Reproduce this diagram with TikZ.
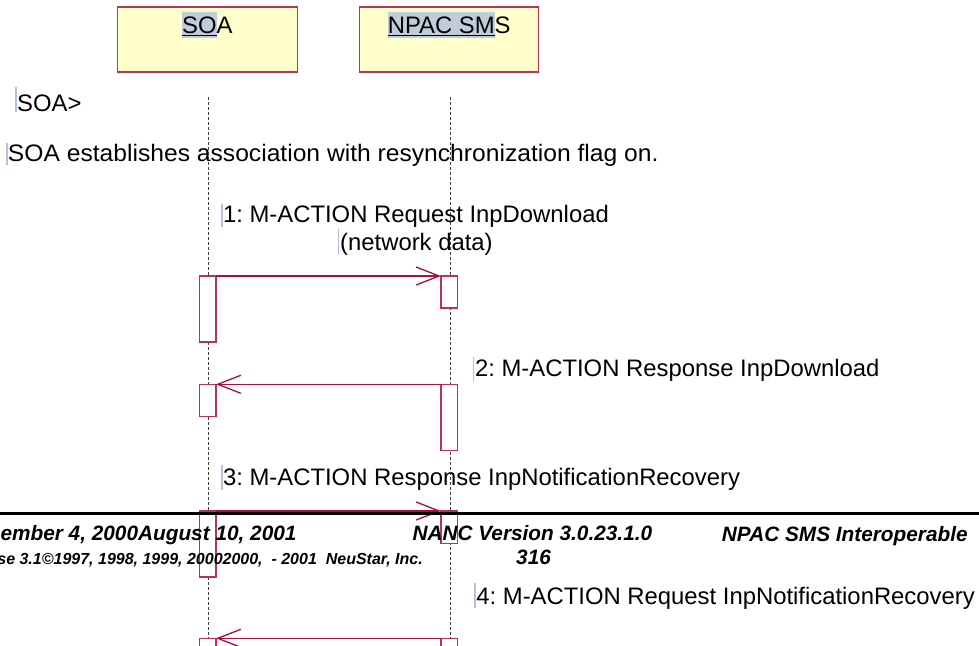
\documentclass[tikz,border=0pt]{standalone}
\usepackage{fontspec}
\setmainfont{Liberation Sans}
\usetikzlibrary{arrows.meta}
\definecolor{hdrfill}{RGB}{255,255,204}
\definecolor{hdrdraw}{RGB}{190,50,90}
\definecolor{actdraw}{RGB}{185,50,85}
\definecolor{arrowc}{RGB}{165,15,65}
\definecolor{lifec}{RGB}{60,60,60}
\definecolor{hlc}{RGB}{192,204,218}
\definecolor{cursorc}{RGB}{180,195,215}
\newcommand\mainsz{\fontsize{23.85}{28}\selectfont\frenchspacing}
\newcommand\footsz{\fontsize{20.8}{24}\selectfont\frenchspacing}
\newcommand\footsmall{\fontsize{16}{19}\selectfont\frenchspacing}
\newcommand\hlt[1]{\setbox0\hbox{#1}\rlap{\textcolor{hlc}{\rule[-4.7pt]{\wd0}{25.4pt}}}\rlap{\rule[-2.8pt]{\wd0}{1.3pt}}\box0}
\tikzset{
  lbl/.style={inner sep=0, anchor=base west, font=\mainsz},
  hdr/.style={draw=hdrdraw, fill=hdrfill, line width=1.3pt, minimum width=179.5pt, minimum height=65pt, inner sep=0, outer sep=0, anchor=north west},
  act/.style={draw=actdraw, fill=white, line width=1.2pt, minimum width=16.6pt, inner sep=0, outer sep=0, anchor=north},
  msg/.style={draw=arrowc, line width=1.3pt, -{Straight Barb[length=23pt,width=18pt]}},
  life/.style={draw=lifec, line width=0.9pt, dash pattern=on 3pt off 2pt},
  cur/.style={fill=cursorc, draw=none},
  foot/.style={inner sep=0, font=\footsz\bfseries\itshape},
  foots/.style={inner sep=0, font=\footsmall\bfseries\itshape},
}
\begin{document}
\begin{tikzpicture}[x=1pt,y=-1pt]
\clip (0,0) rectangle (979,645);
\fill[white] (0,0) rectangle (979,645);

% header boxes
\node[hdr] (soabox) at (117.7,7) {};
\node[hdr] (npacbox) at (359.2,7) {};
\node[inner sep=0, anchor=base, font=\mainsz] (soat) at (207.4,33) {\hlt{SO}A};
\node[inner sep=0, anchor=base, font=\mainsz] (npact) at (449.2,33) {\hlt{NPAC SM}S};

% cursor bars
\fill[cur] (15,87) rectangle (16.5,111.7);
\fill[cur] (6,143) rectangle (7.5,165);
\fill[cur] (221,204) rectangle (222.5,226.7);
\fill[cur] (337.6,228) rectangle (339.1,255);
\fill[cur] (472.6,356.7) rectangle (474.1,381.7);
\fill[cur] (221,465) rectangle (222.5,490);
\fill[cur] (474.3,583) rectangle (475.8,608);

% labels
\node[lbl] (t0) at (17,111) {SOA>};
\node[lbl] (t1) at (7.8,161.7) {\scalebox{1.033}[1]{SOA establishes association with resynchronization flag on.}};
\node[lbl] (m1) at (222.9,222) {1: M-ACTION Request InpDownload};
\node[lbl] (m1b) at (340,250) {(network data)};
\node[lbl] (m2) at (474.9,376.5) {2: M-ACTION Response InpDownload};
\node[lbl] (m3) at (222.9,485) {3: M-ACTION Response InpNotificationRecovery};
\node[lbl] (m4) at (476.2,604) {4: M-ACTION Request InpNotificationRecovery};

% lifelines
\coordinate (sl0) at (208.7,97);
\coordinate (sl1) at (208.7,650);
\coordinate (nl0) at (450,97);
\coordinate (nl1) at (450,650);
\draw[life] (sl0) -- (sl1);
\draw[life] (nl0) -- (nl1);

% activation boxes
\node[act, minimum height=66pt] (A1) at (207.7,276) {};
\node[act, minimum height=32pt] (B1) at (449.2,276) {};
\node[act, minimum height=32.3pt] (A2) at (207.7,384.3) {};
\node[act, minimum height=66pt] (B2) at (449.2,384.3) {};
\node[act, minimum height=66pt] (A3) at (207.7,511) {};
\node[act, minimum height=32.5pt] (B3) at (449.2,511) {};
\node[act, minimum height=40pt] (A4) at (207.7,638.3) {};
\node[act, minimum height=40pt] (B4) at (449.2,638.3) {};

% messages
\draw[msg] (A1.north east) -- (B1.north west);
\draw[msg] (B2.north west) -- (A2.north east);
\draw[msg] (A3.north east) -- (B3.north west);
\draw[msg] (B4.north west) -- (A4.north east);

% footer
\coordinate (fl0) at (0,513.6);
\coordinate (fl1) at (979,513.6);
\draw[line width=2.8pt] (fl0) -- (fl1);
\node[foot, anchor=base east] (f1) at (296.7,540) {ember 4, 2000August 10, 2001};
\node[foot, anchor=base west] (f2) at (412.3,540) {NANC Version 3.0.23.1.0};
\node[foot, anchor=base west] (f3) at (721.7,541) {NPAC SMS Interoperable};
\node[foots, anchor=base east] (f4) at (423,564.5) {se 3.1©1997, 1998, 1999, 20002000,~ - 2001~ NeuStar, Inc.};
\node[foot, anchor=base west] (f5) at (516,564) {316};
\end{tikzpicture}
\end{document}
